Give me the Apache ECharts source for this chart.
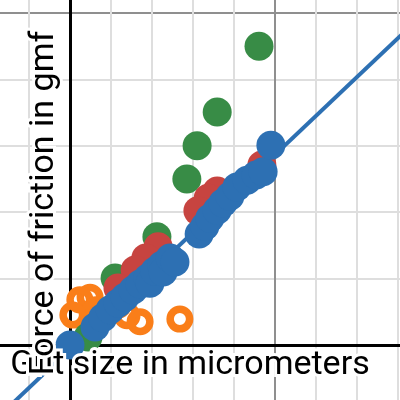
<!DOCTYPE html>
<html>
<head>
<meta charset="utf-8">
<script src="https://cdn.jsdelivr.net/npm/echarts@6/dist/echarts.min.js"></script>
<style>html,body{margin:0;padding:0;background:#fff}#c{width:400px;height:400px}</style>
</head>
<body>
<div id="c"></div>
<script>
// Axis titles
const xTitle = 'Grit size in micrometers';
const yTitle = 'Force of friction in gmf';

// Data points [grit size, force]
const orangePoints = [[8.5,5.0],[11.7,6.0],[13.9,4.4],[17.1,3.5],[26.8,3.9],[4.9,7.2],[2.4,6.8],[6.3,5.3],[0.7,4.5]];
const greenPoints = [[46.1,45.0],[35.9,35.1],[31.0,30.0],[28.5,25.0],[21.2,16.3],[11.0,10.1],[4.4,1.2]];
const redPoints = [[46.8,27.1],[35.9,23.2],[33.7,22.1],[31.2,20.2],[21.5,14.8],[18.5,13.1],[15.9,11.3],[11.7,8.6]];
const bluePoints = [[0,0],[6.1,2.7],[8.0,4.1],[9.8,5.3],[11.7,6.3],[13.4,7.2],[15.4,8.3],[17.1,9.2],[19.0,10.1],[19.5,9.3],[20.7,11.1],[22.4,12.0],[22.7,11.0],[24.4,13.1],[25.6,12.5],
  [31.5,16.7],[32.9,17.9],[34.1,19.1],[35.9,20.3],[37.3,21.4],[39.0,22.4],[40.7,23.8],[43.2,24.8],[45.4,25.6],[47.1,26.1],[49.0,30.1]];
// Fit line endpoints
const fitLine = [[-20,-12.3],[90,52.05]];

const chart = echarts.init(document.getElementById('c'), null, {renderer:'canvas'});
const MINOR = '#dedede', MAJOR = '#8f8f8f';
const gridColors = [MAJOR, MINOR, MINOR, MINOR, MINOR];
const font = '34px Roboto';
const ringPath = 'path://M0,-13.5A13.5,13.5 0 1,1 0,13.5A13.5,13.5 0 1,1 0,-13.5ZM0,-6A6,6 0 1,0 0,6A6,6 0 1,0 0,-6Z';
function label(text, x, y, rot, halo, z) {
  return {
    type: 'text', x: x, y: y, rotation: rot, z: z, silent: true,
    style: {
      text: text, font: font, textAlign: 'center', textVerticalAlign: 'middle',
      fill: halo ? '#fff' : '#000',
      stroke: halo ? '#fff' : null, lineWidth: halo ? 6 : 0
    }
  };
}
chart.setOption({
  animation: false,
  grid: {left: -135, top: -319, width: 615, height: 996, containLabel: false, outerBoundsMode: 'none'},
  xAxis: {
    type: 'value', min: -50, max: 100, interval: 10,
    axisLine: {onZero: true, lineStyle: {color: '#000', width: 3}},
    axisTick: {show: false}, axisLabel: {show: false},
    splitLine: {show: true, lineStyle: {color: gridColors, width: 2}}
  },
  yAxis: {
    type: 'value', min: -50, max: 100, interval: 10,
    axisLine: {onZero: true, lineStyle: {color: '#000', width: 3}},
    axisTick: {show: false}, axisLabel: {show: false},
    splitLine: {show: true, lineStyle: {color: gridColors, width: 2}}
  },
  series: [
    {type: 'line', data: fitLine, symbol: 'none', lineStyle: {color: '#2d70b3', width: 4}, z: 2},
    {type: 'scatter', data: orangePoints, symbol: ringPath, symbolSize: 27,
     itemStyle: {color: '#fa7e19', borderWidth: 0, opacity: 1}, z: 3},
    {type: 'scatter', data: greenPoints, symbol: 'circle', symbolSize: 29, itemStyle: {color: '#388c46', opacity: 1}, z: 4},
    {type: 'scatter', data: redPoints, symbol: 'circle', symbolSize: 29, itemStyle: {color: '#c74440', opacity: 1}, z: 5},
    {type: 'scatter', data: bluePoints, symbol: 'circle', symbolSize: 29, itemStyle: {color: '#2d70b3', opacity: 1}, z: 6}
  ],
  graphic: [
    label(xTitle, 190, 365, 0, true, 100),
    label(xTitle, 190, 365, 0, false, 101),
    label(yTitle, 44, 203, Math.PI/2, true, 102),
    label(yTitle, 44, 203, Math.PI/2, false, 103)
  ]
});
</script>
</body>
</html>
